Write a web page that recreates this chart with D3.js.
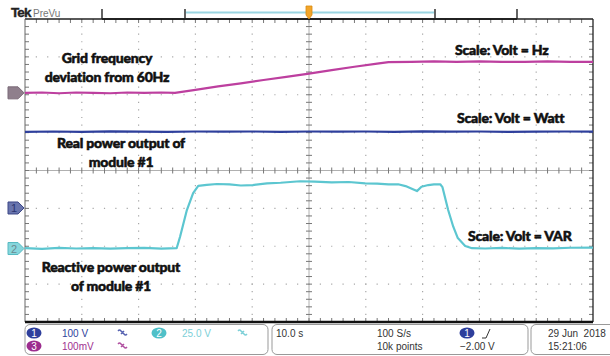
<!DOCTYPE html>
<html><head><meta charset="utf-8">
<script src="https://cdn.jsdelivr.net/npm/d3@7"></script>
<style>body{margin:0;background:#fff}svg{display:block}</style>
</head><body>
<svg id="c" width="610" height="356"></svg>
<script>
// ---------- data (time in s, values in volts) ----------
const ch3Time = [0,3,6,9,12,15,18,21,24,26.4,30,34,38,42,46,50,54,58,62,64,68,72,76,80,84,88,92,96,100];
const ch3Volt = [0.000,0.001,-0.001,0.001,0.000,-0.001,0.001,0.000,0.001,0.000,0.008,0.017,0.025,0.034,0.042,0.051,0.060,0.069,0.077,0.081,0.082,0.083,0.082,0.083,0.082,0.082,0.083,0.082,0.082];
const ch1Time = [0,5,10,15,20,25,30,35,40,45,50,55,60,65,70,75,80,85,90,95,100];
const ch1Volt = [201,202,201,202.5,201.5,201,202,201.5,202,201,202,201.5,202,201,202.5,201.5,202,201,201.5,202,201.5];
const ch2Time = [0,3,6,9,12,15,18,21,24,26.7,27.3,28.5,29.6,30.5,32,33.8,36,38,40.1,42.6,45,48.4,51,54,57,59.9,62,64,65.7,67,68,69,69.8,71,72,73.1,73.5,74.5,75.4,76.2,77.5,78.7,81,84,87,90,93,96,100];
const ch2Volt = [0.3,-0.2,0.4,0.0,0.3,-0.1,0.2,0.4,-0.1,0.2,7.8,25.4,36.6,41.3,42.0,42.6,42.3,41.6,41.9,43.0,43.4,44.4,44.1,43.6,43.9,43.0,42.9,42.4,42.4,41.2,39.6,37.9,40.8,41.9,42.3,42.4,40.5,25.4,14.4,6.9,1.7,0.2,0.0,0.4,-0.1,0.3,0.1,0.5,0.6];

const channelScales = [100, 25, 0.1];        // V/div for ch1, ch2, ch3
const channelPositions = [-0.99, -2.06, 2.05]; // div
const channelReadouts = ["100 V", "25.0 V", "100mV"];
const timeReadout = "10.0 s", sampleRate = "100 S/s", recordLen = "10k points", trigLevel = "\u22122.00 V";
const dateText = "29 Jun  2018", timeText = "15:21:06";

const annotations = [
  ["Grid frequency", "deviation from 60Hz"],
  ["Real power output of", "module #1"],
  ["Reactive power output", "of module #1"],
  ["Scale: Volt = Hz"], ["Scale: Volt = Watt"], ["Scale: Volt = VAR"]
];

// ---------- layout ----------
const L = 25, R = 593, T = 19, B = 322;
const svg = d3.select("#c");
const x = d3.scaleLinear().domain([0, 100]).range([L, R]);
const y = d3.scaleLinear().domain([-4, 4]).range([B, T]);
const colors = {ch1:"#2e3f9c", ch2:"#5cc6d0", ch3:"#bd3f9f"};

const g = svg.append("g");
const minorX = (R - L) / 50, minorY = (B - T) / 40;

// dotted grid
for (let i = 1; i < 10; i++) {
  if (i === 5) continue;
  g.append("line").attr("x1", x(i*10)).attr("x2", x(i*10)).attr("y1", T).attr("y2", B)
    .attr("stroke", "#a8a8a8").attr("stroke-width", 1.2)
    .attr("stroke-dasharray", `1.2 ${minorY-1.2}`).attr("stroke-dashoffset", 0.6);
}
for (let j = -3; j <= 3; j++) {
  if (j === 0) continue;
  g.append("line").attr("x1", L).attr("x2", R).attr("y1", y(j)).attr("y2", y(j))
    .attr("stroke", "#a8a8a8").attr("stroke-width", 1.2)
    .attr("stroke-dasharray", `1.2 ${minorX-1.2}`).attr("stroke-dashoffset", 0.6);
}
// center crosshair
g.append("line").attr("x1", x(50)).attr("x2", x(50)).attr("y1", T).attr("y2", B).attr("stroke", "#b0b0b0");
g.append("line").attr("x1", L).attr("x2", R).attr("y1", y(0)).attr("y2", y(0)).attr("stroke", "#b0b0b0");
const ticks = g.append("g").attr("stroke", "#777").attr("stroke-width", 1);
for (let k = 1; k < 50; k++) {
  const xx = L + k * minorX;
  ticks.append("line").attr("x1", xx).attr("x2", xx).attr("y1", y(0)-3).attr("y2", y(0)+3);
  ticks.append("line").attr("x1", xx).attr("x2", xx).attr("y1", T).attr("y2", T+4);
  ticks.append("line").attr("x1", xx).attr("x2", xx).attr("y1", B).attr("y2", B-4);
}
for (let k = 1; k < 40; k++) {
  const yy = T + k * minorY;
  ticks.append("line").attr("y1", yy).attr("y2", yy).attr("x1", x(50)-3).attr("x2", x(50)+3);
  ticks.append("line").attr("y1", yy).attr("y2", yy).attr("x1", L).attr("x2", L+4);
  ticks.append("line").attr("y1", yy).attr("y2", yy).attr("x1", R).attr("x2", R-4);
}
// border
g.append("line").attr("x1", L).attr("x2", R).attr("y1", T).attr("y2", T).attr("stroke", "#222").attr("stroke-width", 1.3);
g.append("line").attr("x1", L).attr("x2", L).attr("y1", T).attr("y2", B).attr("stroke", "#666").attr("stroke-width", 1);
g.append("line").attr("x1", R).attr("x2", R).attr("y1", T).attr("y2", B).attr("stroke", "#222").attr("stroke-width", 1.3);
g.append("line").attr("x1", L).attr("x2", R).attr("y1", B).attr("y2", B).attr("stroke", "#111").attr("stroke-width", 2.5);

// traces
function trace(times, volts, ci, color) {
  const pts = times.map((t, i) => [t, volts[i]]);
  const line = d3.line().x(d => x(d[0])).y(d => y(d[1] / channelScales[ci] + channelPositions[ci]));
  g.append("path").datum(pts).attr("d", line).attr("fill", "none")
    .attr("stroke", color).attr("stroke-width", 2.2).attr("stroke-linejoin", "round");
}
trace(ch1Time, ch1Volt, 0, colors.ch1);
trace(ch3Time, ch3Volt, 2, colors.ch3);
trace(ch2Time, ch2Volt, 1, colors.ch2);

// channel markers on left
function marker(pos, fill, stroke, label, tcol) {
  const yy = y(pos);
  g.append("path").attr("d", `M8,${yy-6} L18,${yy-6} L24,${yy} L18,${yy+6} L8,${yy+6} Z`)
    .attr("fill", fill).attr("stroke", stroke).attr("stroke-width", 1);
  if (label) g.append("text").attr("x", 14).attr("y", yy + 4).attr("text-anchor", "middle")
    .attr("font-family", "Liberation Sans, sans-serif").attr("font-size", 11).attr("fill", tcol).text(label);
}
marker(channelPositions[2], "#8f7f8c", "#7a6a78", "", "#000");
marker(channelPositions[0], "#6874ad", "#3c4787", "1", "#2a3370");
marker(channelPositions[1], "#86d6dc", "#56b9c2", "2", "#6a8a90");

// annotations
const af = "Lato, 'Open Sans', sans-serif";
function ann(lines, cx, y0, anchor) {
  lines.forEach((s, i) => g.append("text").attr("x", cx).attr("y", y0 + i * 18.5)
    .attr("text-anchor", anchor).attr("font-family", af).attr("font-weight", 900)
    .attr("font-size", 14).attr("letter-spacing", -0.2).attr("fill", "#111")
    .attr("stroke", "#111").attr("stroke-width", 0.55).attr("stroke-linejoin", "round").text(s));
}
ann(annotations[0], 107, 63, "middle");
ann(annotations[1], 121, 148, "middle");
ann(annotations[2], 111, 272, "middle");
ann(annotations[3], 455, 55, "start");
ann(annotations[4], 457, 123, "start");
ann(annotations[5], 468, 241, "start");

// top bar
svg.append("text").attr("x", 11).attr("y", 17).attr("font-family", "Liberation Sans, sans-serif")
  .attr("font-weight", 700).attr("font-size", 13.5).attr("letter-spacing", -0.9).attr("fill", "#222")
  .attr("stroke", "#222").attr("stroke-width", 0.4).text("Tek");
svg.append("text").attr("x", 33).attr("y", 17).attr("font-family", "Liberation Sans, sans-serif")
  .attr("font-size", 10).attr("fill", "#777").text("PreVu");
svg.append("line").attr("x1", 102).attr("x2", 517).attr("y1", T).attr("y2", T).attr("stroke", "#111").attr("stroke-width", 1.6);
svg.append("line").attr("x1", 186).attr("x2", 434).attr("y1", 12.5).attr("y2", 12.5).attr("stroke", "#9ad5e2").attr("stroke-width", 2);
[102, 185, 435, 517].forEach(xx => svg.append("line").attr("x1", xx).attr("x2", xx).attr("y1", 9).attr("y2", T)
  .attr("stroke", "#222").attr("stroke-width", 1.4));
const tx = x(50);
svg.append("path").attr("d", `M${tx-3},6 L${tx+3},6 L${tx+3},15 L${tx},19 L${tx-3},15 Z`)
  .attr("fill", "#f2a52a").attr("stroke", "#d98a10").attr("stroke-width", 0.8);

// status bar
const sb = svg.append("g").attr("font-family", "Liberation Sans, sans-serif").attr("font-size", 10);
[[25, 243], [272, 256], [531, 90]].forEach(([bx, bw]) => sb.append("rect").attr("x", bx).attr("y", 324.5)
  .attr("width", bw).attr("height", 30).attr("rx", 5).attr("fill", "#fff").attr("stroke", "#999"));
function badge(cx, cy, fill, label) {
  sb.append("ellipse").attr("cx", cx).attr("cy", cy).attr("rx", 7.5).attr("ry", 5.5).attr("fill", fill);
  sb.append("text").attr("x", cx).attr("y", cy + 3.5).attr("text-anchor", "middle").attr("fill", "#fff")
    .attr("font-size", 10).text(label);
}
function bw(cx, cy, col) {
  sb.append("path").attr("d", `M${cx-3},${cy-3} q1.5,-2 3,0 t3,0 M${cx},${cy} q1.5,-2 3,0 t3,0`)
    .attr("fill", "none").attr("stroke", col).attr("stroke-width", 1.3);
}
badge(34, 333, colors.ch1, "1");
badge(34, 346, "#9c2d8e", "3");
badge(159, 333, "#4fc0c8", "2");
sb.append("text").attr("x", 62).attr("y", 337).attr("fill", "#2e3f9c").text(channelReadouts[0]);
sb.append("text").attr("x", 182).attr("y", 337).attr("fill", "#7ccfd7").text(channelReadouts[1]);
sb.append("text").attr("x", 62).attr("y", 350).attr("fill", "#a0308f").text(channelReadouts[2]);
bw(121, 334, "#5561b0"); bw(121, 347, "#b050a0"); bw(241, 334, "#7ccfd7");
sb.append("text").attr("x", 276).attr("y", 337).attr("fill", "#333").text(timeReadout);
sb.append("text").attr("x", 377).attr("y", 337).attr("fill", "#333").text(sampleRate);
sb.append("text").attr("x", 377).attr("y", 350).attr("fill", "#333").text(recordLen);
badge(467, 333, colors.ch1, "1");
sb.append("path").attr("d", "M482,338 L486,338 L490,329").attr("fill", "none").attr("stroke", "#333").attr("stroke-width", 1);
sb.append("text").attr("x", 460).attr("y", 350).attr("fill", "#333").text(trigLevel);
sb.append("text").attr("x", 548).attr("y", 337).attr("fill", "#333").attr("xml:space", "preserve").text(dateText);
sb.append("text").attr("x", 548).attr("y", 350).attr("fill", "#333").text(timeText);
</script>
</body></html>
